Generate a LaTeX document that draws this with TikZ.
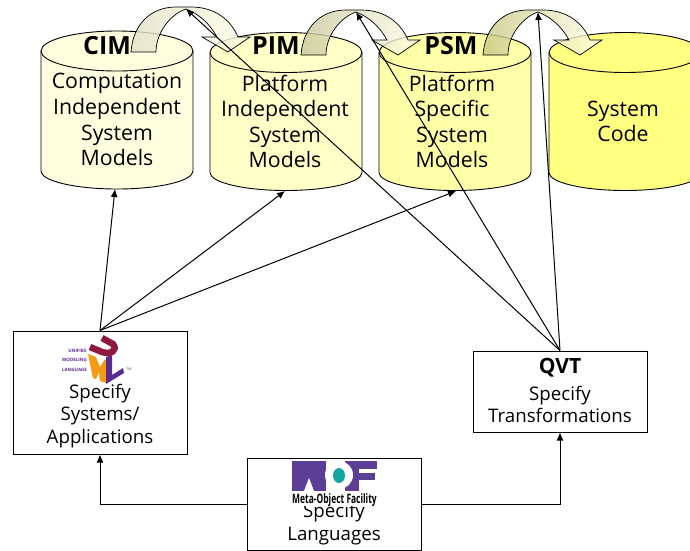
\documentclass[tikz,border=0pt]{standalone}
\usepackage{fontspec}
\setmainfont{Open Sans}
\usetikzlibrary{arrows.meta}
\definecolor{cimyellow}{HTML}{FFFFE0}
\definecolor{pimyellow}{HTML}{FFFFC8}
\definecolor{psmyellow}{HTML}{FFFFA8}
\definecolor{codeyellow}{HTML}{FFFF80}
\definecolor{umlred}{HTML}{8E1740}
\definecolor{umlorange}{HTML}{F59A12}
\definecolor{umlpurple}{HTML}{5B2A90}
\definecolor{mofpurple}{HTML}{5B3F96}
\definecolor{mofteal}{HTML}{14A5A0}
\tikzset{
	conn/.style={line width=1pt, -{Latex[length=8pt, width=7pt]}},
	box/.style={draw, line width=1pt, fill=white, inner sep=0pt},
	bigtext/.style={align=center, font=\fontsize{21.3}{25.6}\selectfont},
	boxtext/.style={align=center, font=\fontsize{18.7}{22.4}\selectfont},
	title/.style={font=\fontsize{25}{25}\selectfont\bfseries}
}
\def\dbcylinder[#1](#2,#3){
	\draw[line width=0.9pt, fill=#1] (#2, #3) arc (180:0:76pt and 20pt) -- ++(0, 120) arc (0:-180:76pt and 18pt) -- cycle;
	\draw[line width=0.9pt] (#2, #3) arc (180:360:76pt and 20pt);
}
\def\bentarrow[#1](#2,#3)(#4){
	\begin{scope}[shift={(#2, #3)}]
		\draw[line width=0.7pt, left color=#1, right color=cimyellow!70!white, fill opacity=0.8] (0, 0) .. controls (2, -28) and (20, -45) .. (45, -45) -- (60, -45) .. controls (84, -45) and (100, -32) .. (107, -15) -- (119, -15) -- (97, 0) -- (71, -15) -- (86, -15) .. controls (79, -28) and (68, -38) .. (55, -43) .. controls (40, -38) and (25, -20) .. (25, 0) -- cycle;
		\coordinate (#4) at (55, -43);
	\end{scope}
}

\begin{document}
\begin{tikzpicture}[x=1pt, y=-1pt]
	%%%%% START %%%%%
	\useasboundingbox (0, 0) rectangle (690, 550);
	
	\dbcylinder[cimyellow](41, 51)
	\dbcylinder[pimyellow](210, 52.5)
	\dbcylinder[psmyellow](379, 52.5)
	\dbcylinder[codeyellow](549, 52.5)
	
	\coordinate (cimbottom) at (115, 189);
	\coordinate (pimbottom) at (285, 191);
	\coordinate (psmbottom) at (456, 191);
	
	\bentarrow[cimyellow!88!black](131, 52)(cimtip)
	\bentarrow[pimyellow!78!black](301, 55)(pimtip)
	\bentarrow[psmyellow!78!black](483, 55)(psmtip)
	
	\node[title] (cimtitle) at (107, 46) {CIM};
	\node[title] (pimtitle) at (276, 46) {PIM};
	\node[title] (psmtitle) at (451, 46) {PSM};
	
	\node[bigtext] (cimtext) at (117, 119.5) {Computation\\Independent\\System\\Models};
	\node[bigtext] (pimtext) at (285, 121.5) {Platform\\Independent\\System\\Models};
	\node[bigtext] (psmtext) at (452, 121.5) {Platform\\Specific\\System\\Models};
	\node[bigtext] (codetext) at (623, 121.5) {System\\Code};
	
	\node[box, minimum width=174pt, minimum height=123pt] (uml) at (100, 392.5) {};
	\node[box, minimum width=174pt, minimum height=81pt] (qvt) at (560, 391.5) {};
	\node[box, minimum width=174pt, minimum height=92pt] (mof) at (334, 504) {};
	
	% uml logo
	\fill[umlorange] (88, 354) -- (96, 357) -- (100, 367) -- (105, 359) -- (106, 360) -- (106, 383) -- (100, 381) -- (99, 372) -- (96, 379) -- (93, 378) -- cycle;
	\fill[umlpurple] (106, 357) -- (106, 384) -- (124, 373) -- (123, 368) -- (112, 375) -- (112, 355) -- cycle;
	\draw[line width=6.5pt, color=umlred] (102, 338) -- (113, 344) .. controls (118, 350) and (111, 355) .. (102, 352) -- (90, 347);
	\node[color=umlpurple, font=\fontsize{4.5}{9.5}\selectfont\bfseries, align=right, anchor=east, inner sep=0pt] (umlname) at (87, 360) {UNIFIED\\MODELING\\LANGUAGE};
	\node[color=black!70, font=\fontsize{3.5}{4}\selectfont, inner sep=0pt] (umltm) at (129, 369) {TM};
	
	\node[boxtext] (umltext) at (100, 416) {Specify\\Systems/\\Applications};
	\node[title, font=\fontsize{21}{21}\selectfont\bfseries] (qvttitle) at (560, 368) {QVT};
	\node[boxtext] (qvttext) at (560, 404.5) {Specify\\Transformations};
	\node[boxtext] (moftext) at (334, 524) {Specify\\Languages};
	
	% mof logo
	\fill[white] (290, 460) rectangle (380, 506);
	\fill[mofpurple] (292, 461) rectangle (326, 491);
	\fill[white] (304, 491) -- (309, 478) -- (314, 491) -- cycle;
	\fill[mofpurple] (345, 461) rectangle (377, 469);
	\fill[mofpurple] (345, 473) rectangle (375, 480);
	\fill[mofpurple] (345, 469) rectangle (359, 491);
	\fill[white] (339, 475) circle (14);
	\fill[mofteal] (339, 475.5) ellipse (6 and 7.5);
	\node[font=\fontsize{13}{13}\selectfont\bfseries, xscale=0.65, inner sep=0pt] (mofname) at (334.5, 500) {Meta-Object Facility};
	
	\draw[conn] (uml.north) -- (cimbottom);
	\draw[conn] (uml.north) -- (pimbottom);
	\draw[conn] (uml.north) -- (psmbottom);
	\draw[conn] (qvt.north) -- (cimtip);
	\draw[conn] (qvt.north) -- (pimtip);
	\draw[conn] (qvt.north) -- (psmtip);
	\draw[conn] (mof.west) -| (uml.south);
	\draw[conn] (mof.east) -| (qvt.south);
	
	%%%%% END %%%%%
\end{tikzpicture}
\end{document}
